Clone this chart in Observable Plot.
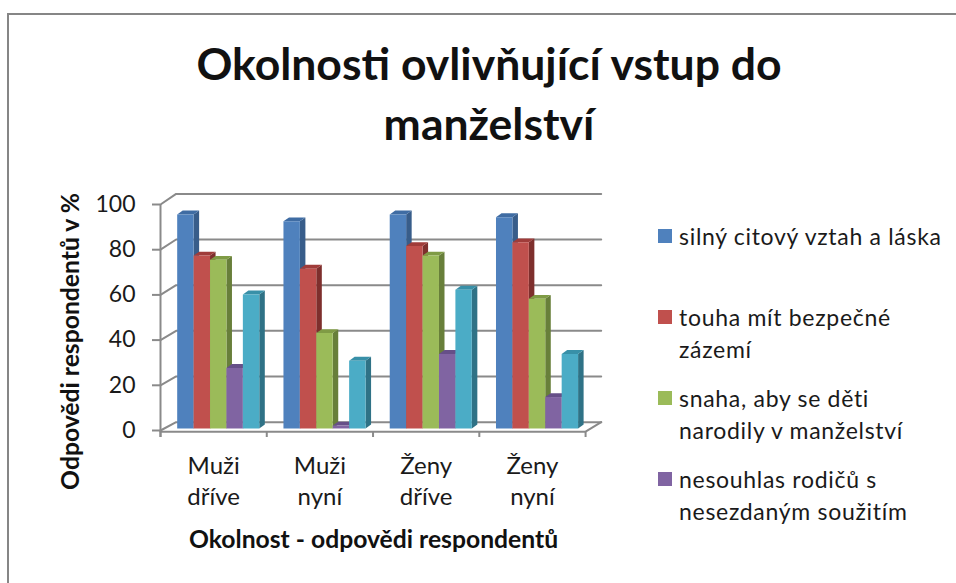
<!DOCTYPE html>
<html lang="cs">
<head>
<meta charset="utf-8">
<script src="https://cdn.jsdelivr.net/npm/d3@7"></script>
<script src="https://cdn.jsdelivr.net/npm/@observablehq/plot@0.6"></script>
<style>
  html, body { margin: 0; padding: 0; background: #fff; }
  #page { position: relative; width: 956px; height: 583px; overflow: hidden; font-family: Lato, sans-serif; color: #1a1a1a; }
  #frame { position: absolute; left: 7px; top: 13px; right: -5px; bottom: -5px; border-left: 2.5px solid #868686; border-top: 2.5px solid #868686; }
  #title { position: absolute; left: 0; top: 33px; width: 978px; text-align: center; font-size: 44.5px; font-weight: 700; line-height: 60px; color: #111; white-space: pre-line; }
  #chart { position: absolute; left: 0; top: 150px; }
  #legend { position: absolute; left: 658px; top: 219.5px; font-size: 23px; line-height: 32px; }
  .item { position: relative; height: 81px; padding-left: 21px; white-space: pre-line; letter-spacing: 0.7px; }
  .swatch { position: absolute; left: 0; top: 9.5px; width: 14px; height: 14px; }
</style>
</head>
<body>
<div id="page">
  <div id="frame"></div>
  <div id="title"></div>
  <div id="chart"></div>
  <div id="legend"></div>
</div>
<script>
const titleText = "Okolnosti ovlivňující vstup do\nmanželství";
const yLabel = "Odpovědi respondentů v %";
const xLabel = "Okolnost - odpovědi respondentů";
const categories = ["Muži\ndříve", "Muži\nnyní", "Ženy\ndříve", "Ženy\nnyní"];
const legendLabels = [
  "silný citový vztah a láska",
  "touha mít bezpečné\nzázemí",
  "snaha, aby se děti\nnarodily v manželství",
  "nesouhlas rodičů s\nnesezdaným soužitím"
];
const yTicks = [0, 20, 40, 60, 80, 100];

const series1 = [94.7, 91.7, 94.7, 93.5];
const series2 = [76.5, 70.7, 80.7, 82.4];
const series3 = [74.6, 42.2, 76.5, 57.4];
const series4 = [26.8, 1.3, 33.0, 13.9];
const series5 = [59.3, 30.0, 61.4, 33.0];
const seriesValues = [series1, series2, series3, series4, series5];

const frontColors = ["#4F81BD", "#C0504D", "#9BBB59", "#8064A2", "#4BACC6"];
const sideColors  = ["#385D8A", "#7E2F2D", "#687F3A", "#5A4674", "#2F7286"];
const topColors   = ["#3F6CA3", "#A03C3A", "#7F9B45", "#664F88", "#3890A8"];
const gridColor = "#8a8a8a";

// Projection constants of the fake 3D box, in scale units
const wallDx = 0.147, barStart = 0.157, barWidth = 0.1545, barBase = 0.9;
const depthX = 0.052, depthY = 1.7, floorY = -0.5, tickY = -3.1;
const backY = t => t * 1.01 + 3.7;

const faces = [];
seriesValues[0].forEach((_, g) => seriesValues.forEach((vals, s) => {
  const v = vals[g], x1 = g + barStart + s * barWidth, x2 = x1 + barWidth, b = barBase, t = b + v;
  const add = (name, color, pts) => pts.forEach(([x, y]) => faces.push({id: `${g}-${s}-${name}`, color, x, y}));
  add("side", sideColors[s], [[x2, b], [x2 + depthX, b + depthY], [x2 + depthX, t + depthY], [x2, t]]);
  add("top", topColors[s], [[x1, t], [x2, t], [x2 + depthX, t + depthY], [x1 + depthX, t + depthY]]);
  add("front", frontColors[s], [[x1, b], [x2, b], [x2, t], [x1, t]]);
}));

const grid = yTicks.flatMap(t => [
  {t, x: 0, y: t}, {t, x: wallDx, y: backY(t)}, {t, x: categories.length + wallDx, y: backY(t)}
]);
const floorEdge = [
  {x: 0, y: floorY}, {x: categories.length, y: floorY}, {x: categories.length + wallDx, y: backY(0)}
];
const slots = d3.range(categories.length + 1);

const plot = Plot.plot({
  width: 650, height: 433,
  marginLeft: 160, marginRight: 49.3, marginTop: 54, marginBottom: 153,
  x: {type: "linear", domain: [0, categories.length + wallDx], axis: null},
  y: {type: "linear", domain: [0, 100], axis: null},
  color: {type: "identity"},
  style: {fontFamily: "Lato, sans-serif", background: "transparent", color: "#1a1a1a", overflow: "visible"},
  marks: [
    Plot.line(grid, {x: "x", y: "y", z: "t", stroke: gridColor, strokeWidth: 2}),
    Plot.line(floorEdge, {x: "x", y: "y", stroke: gridColor, strokeWidth: 2}),
    Plot.ruleX([0], {y1: tickY, y2: 100, stroke: gridColor, strokeWidth: 2}),
    Plot.ruleX(slots, {x: d => d, y1: floorY, y2: tickY, stroke: gridColor, strokeWidth: 2}),
    Plot.axisY({ticks: yTicks, tickSize: 8, tickPadding: 17, fontSize: 23, stroke: gridColor, strokeWidth: 2, label: null, fill: "#1a1a1a"}),
    Plot.line(faces, {x: "x", y: "y", z: "id", fill: "color", stroke: "none"}),
    Plot.text(categories, {x: (d, i) => i + 0.5, y: -21.7, text: d => d, lineHeight: 1.31, fontSize: 24, fill: "#1a1a1a"}),
    Plot.text([xLabel], {x: 2.005, y: -48.7, text: d => d, fontSize: 24.7, fontWeight: 700, fill: "#111"}),
    Plot.text([yLabel], {x: -0.845, y: 39.4, text: d => d, rotate: -90, fontSize: 24.7, fontWeight: 700, fill: "#111"})
  ]
});
document.getElementById("chart").append(plot);
document.getElementById("title").textContent = titleText;

const legend = d3.select("#legend").selectAll("div").data(legendLabels).join("div").attr("class", "item");
legend.append("span").attr("class", "swatch").style("background", (d, i) => frontColors[i]);
legend.append("span").text(d => d);
</script>
</body>
</html>
